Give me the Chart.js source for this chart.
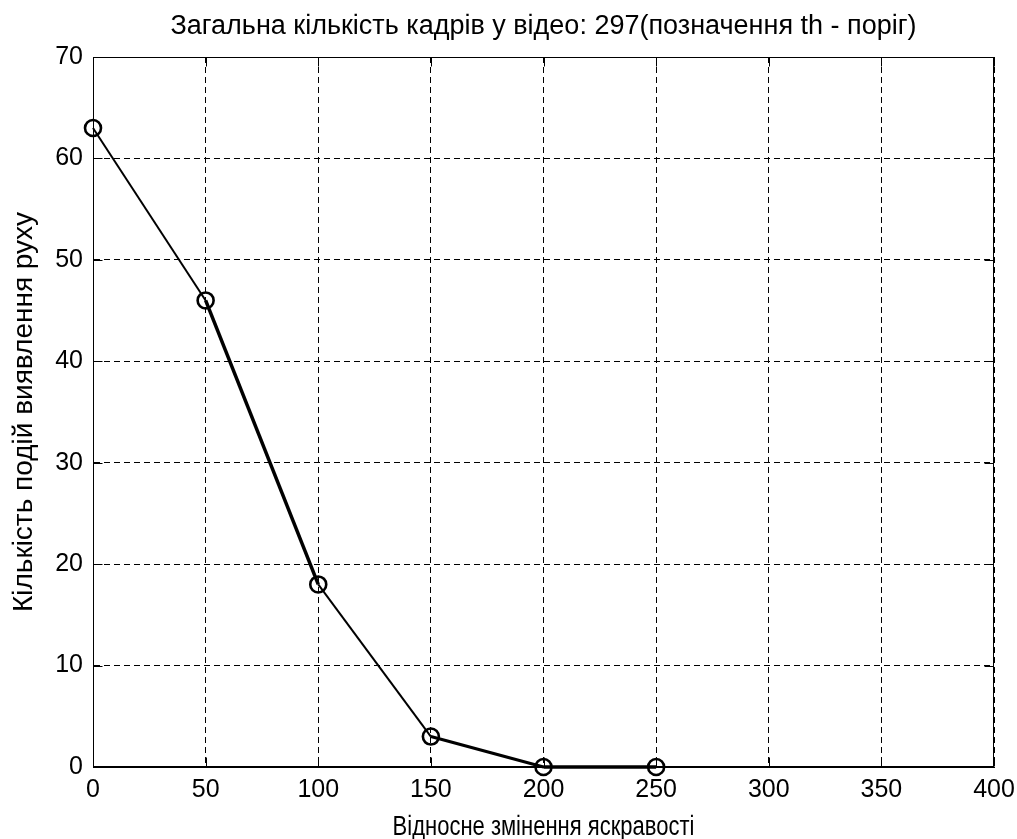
<!DOCTYPE html>
<html>
<head>
<meta charset="utf-8">
<script src="https://cdn.jsdelivr.net/npm/chart.js@4.4.1/dist/chart.umd.min.js"></script>
<style>
  html, body { margin: 0; padding: 0; background: #fff; }
  canvas { display: block; }
</style>
</head>
<body>
<canvas id="line-chart" width="1017" height="839"></canvas>
<script>
  // brightness change threshold vs. number of motion detection events
  const brightness = [0, 50, 100, 150, 200, 250];
  const detections = [63, 46, 18, 3, 0, 0];

  const titleText = 'Загальна кількість кадрів у відео: 297(позначення th - поріг)';
  const xTitle = 'Відносне змінення яскравості';
  const yTitle = 'Кількість подій виявлення руху';

  const font = 'Liberation Sans, Arial, sans-serif';
  const segmentWidths = [2, 3.5, 2, 3, 3.5];

  // box around the plot area plus short inward tick marks (matlab style)
  const frame = {
    id: 'frame',
    beforeDatasetsDraw(chart) {
      const { ctx, chartArea: a, scales } = chart;
      const l = Math.round(a.left) + 0.5, r = Math.round(a.right) - 0.5;
      const t = Math.round(a.top) + 0.5, b = Math.round(a.bottom) - 0.5;
      const len = 9;
      ctx.save();
      ctx.strokeStyle = '#000';
      ctx.lineWidth = 1;
      ctx.setLineDash([]);
      ctx.strokeRect(l, t, r - l, b - t);
      ctx.beginPath();
      scales.x.ticks.forEach(tk => {
        const px = Math.round(scales.x.getPixelForValue(tk.value)) + 0.5;
        ctx.moveTo(px, b); ctx.lineTo(px, b - len);
        ctx.moveTo(px, t); ctx.lineTo(px, t + len);
      });
      scales.y.ticks.forEach(tk => {
        const py = Math.round(scales.y.getPixelForValue(tk.value)) + 0.5;
        ctx.moveTo(l, py); ctx.lineTo(l + len, py);
        ctx.moveTo(r, py); ctx.lineTo(r - len, py);
      });
      ctx.stroke();
      ctx.restore();
    }
  };

  // x axis caption, a bit condensed horizontally
  const xCaption = {
    id: 'xCaption',
    afterDraw(chart) {
      const { ctx, chartArea: a } = chart;
      ctx.save();
      ctx.fillStyle = '#000';
      ctx.font = '27px ' + font;
      ctx.textAlign = 'center';
      ctx.textBaseline = 'alphabetic';
      ctx.translate((a.left + a.right) / 2, chart.height - 4);
      ctx.scale(0.815, 1);
      ctx.fillText(xTitle, 0, 0);
      ctx.restore();
    }
  };

  const ctx = document.getElementById('line-chart').getContext('2d');

  new Chart(ctx, {
    type: 'line',
    data: {
      labels: brightness,
      datasets: [{
        data: brightness.map((x, i) => ({ x: x, y: detections[i] })),
        borderColor: '#000',
        borderWidth: 2,
        backgroundColor: 'rgba(0,0,0,0)',
        pointRadius: 8,
        pointBorderWidth: 2.6,
        pointBorderColor: '#000',
        pointBackgroundColor: 'rgba(0,0,0,0)',
        tension: 0,
        clip: false,
        segment: {
          borderWidth: c => segmentWidths[c.p0DataIndex]
        }
      }]
    },
    options: {
      responsive: false,
      animation: false,
      devicePixelRatio: 1,
      layout: { padding: { left: 0, right: 23, top: 0, bottom: 0 } },
      plugins: {
        legend: { display: false },
        tooltip: { enabled: false },
        title: {
          display: true,
          fullSize: false,
          text: titleText,
          color: '#000',
          font: { family: font, size: 27, weight: 'normal', lineHeight: 1.2 },
          padding: { top: 10, bottom: 14.6 }
        }
      },
      scales: {
        x: {
          type: 'linear',
          min: 0,
          max: 400,
          afterFit: s => {
            s.height = 72;
            s.paddingLeft = 0;
            s.paddingRight = 0;
          },
          ticks: {
            stepSize: 50,
            color: '#000',
            padding: 8,
            maxRotation: 0,
            font: { family: font, size: 25 }
          },
          grid: {
            color: '#000',
            lineWidth: 1,
            drawTicks: false
          },
          border: { display: true, color: '#000', width: 1, dash: [6, 4] }
        },
        y: {
          type: 'linear',
          min: 0,
          max: 70,
          afterFit: s => { s.width = 93; },
          ticks: {
            stepSize: 10,
            color: '#000',
            padding: 10,
            font: { family: font, size: 25 }
          },
          grid: {
            color: '#000',
            lineWidth: 1,
            drawTicks: false
          },
          border: { display: true, color: '#000', width: 1, dash: [6, 4] },
          title: {
            display: true,
            text: yTitle,
            color: '#000',
            font: { family: font, size: 28, lineHeight: 1.2 },
            padding: { top: 7, bottom: 0 }
          }
        }
      }
    },
    plugins: [frame, xCaption]
  });
</script>
</body>
</html>
